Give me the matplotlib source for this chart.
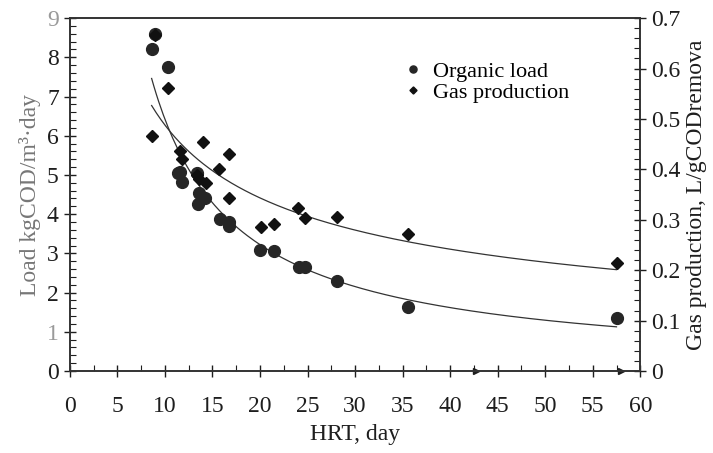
import numpy as np
import matplotlib
matplotlib.use("Agg")
import matplotlib.pyplot as plt
from matplotlib.ticker import MultipleLocator

plt.rcParams["font.family"] = ["Liberation Serif", "DejaVu Serif"]

# data
hrt_load = [8.6, 9.0, 10.3, 11.4, 11.6, 11.75, 13.4, 13.6, 13.5, 14.2, 15.8, 16.7, 16.7,
            20.0, 21.5, 24.1, 24.7, 28.1, 35.6, 57.5]
org_load = [8.2, 8.6, 7.76, 5.05, 5.08, 4.83, 5.04, 4.55, 4.25, 4.4, 3.87, 3.81, 3.7,
            3.09, 3.07, 2.64, 2.66, 2.3, 1.64, 1.34]

hrt_gas = [8.67, 9.0, 10.35, 11.6, 11.75, 14.0, 16.7, 15.7, 13.4, 14.3, 13.6, 16.7,
           24.0, 24.7, 28.1, 20.1, 21.5, 35.6, 57.5]
gas_prod = [0.466, 0.667, 0.562, 0.437, 0.42, 0.455, 0.43, 0.401, 0.389, 0.372, 0.38, 0.344,
            0.324, 0.303, 0.306, 0.286, 0.291, 0.272, 0.214]

# little arrow marks on the x axis
hrt_marks = [42.7, 58.0]
marks_y = [0, 0]

# power trendlines (fitted to the read points)
b1, a1 = np.polyfit(np.log(hrt_load), np.log(org_load), 1)
b2, a2 = np.polyfit(np.log(hrt_gas), np.log(gas_prod), 1)
xs = np.linspace(8.6, 57.5, 200)

fig = plt.figure(figsize=(7.13, 4.53), dpi=100)
ax = fig.add_axes([0.098, 0.181, 0.800, 0.779])
ax2 = ax.twinx()

c = "#1e1e1e"
fs = 17
ax.plot(xs, np.exp(a1) * xs ** b1, color="#333333", lw=0.9)
l1, = ax.plot(hrt_load, org_load, "o", color="#262626", ms=8.5, ls="none", label="Organic load")
ax.plot(hrt_marks, marks_y, ">", color=c, ms=5, clip_on=False)
ax2.plot(xs, np.exp(a2) * xs ** b2, color="#333333", lw=0.9)
l2, = ax2.plot(hrt_gas, gas_prod, "D", color="#111111", ms=6, ls="none", label="Gas production")

ax.set_xlim(0, 60)
ax.set_ylim(0, 9)
ax2.set_ylim(0, 0.7)
ax.xaxis.set_major_locator(MultipleLocator(5))
ax.xaxis.set_minor_locator(MultipleLocator(2.5))
ax.yaxis.set_major_locator(MultipleLocator(1))
ax.yaxis.set_minor_locator(MultipleLocator(0.2))
ax2.yaxis.set_minor_locator(MultipleLocator(0.02))
ax2.set_yticks(np.arange(0, 0.71, 0.1))
ax2.set_yticklabels(["0", "0.1", "0.2", "0.3", "0.4", "0.5", "0.6", "0.7"])

ax.tick_params(axis="both", which="major", direction="inout", length=8, width=1, colors=c,
               labelsize=fs)
ax.tick_params(axis="both", which="minor", direction="in", length=4, width=0.8, colors=c)
ax.tick_params(axis="x", pad=14)
ax.tick_params(axis="y", pad=4)
ax2.tick_params(axis="y", which="major", direction="inout", length=8, width=1, colors=c,
                labelsize=fs, pad=4)
ax2.tick_params(axis="y", which="minor", direction="in", length=4, width=0.8, colors=c)
for a in (ax, ax2):
    for s in a.spines.values():
        s.set_color("#333333")
        s.set_linewidth(1.2)
for lbl in ax.get_yticklabels():
    if lbl.get_text() in ("1", "9"):
        lbl.set_color("#9a9a9a")

ax.set_xlabel("HRT, day", fontsize=fs, color=c, labelpad=5)
ax.set_ylabel("Load kgCOD/m³·day", fontsize=fs, color="#777777", labelpad=4)
ax2.set_ylabel("Gas production, L/gCODremova", fontsize=fs, color=c, labelpad=4)

ax.legend(handles=[l1, l2], loc="upper left", bbox_to_anchor=(0.555, 0.915), frameon=False,
          fontsize=16, handletextpad=0.3, labelspacing=0.0, markerscale=0.6,
          handlelength=1.2, borderaxespad=0.2)

fig.savefig("out.png", dpi=100)
